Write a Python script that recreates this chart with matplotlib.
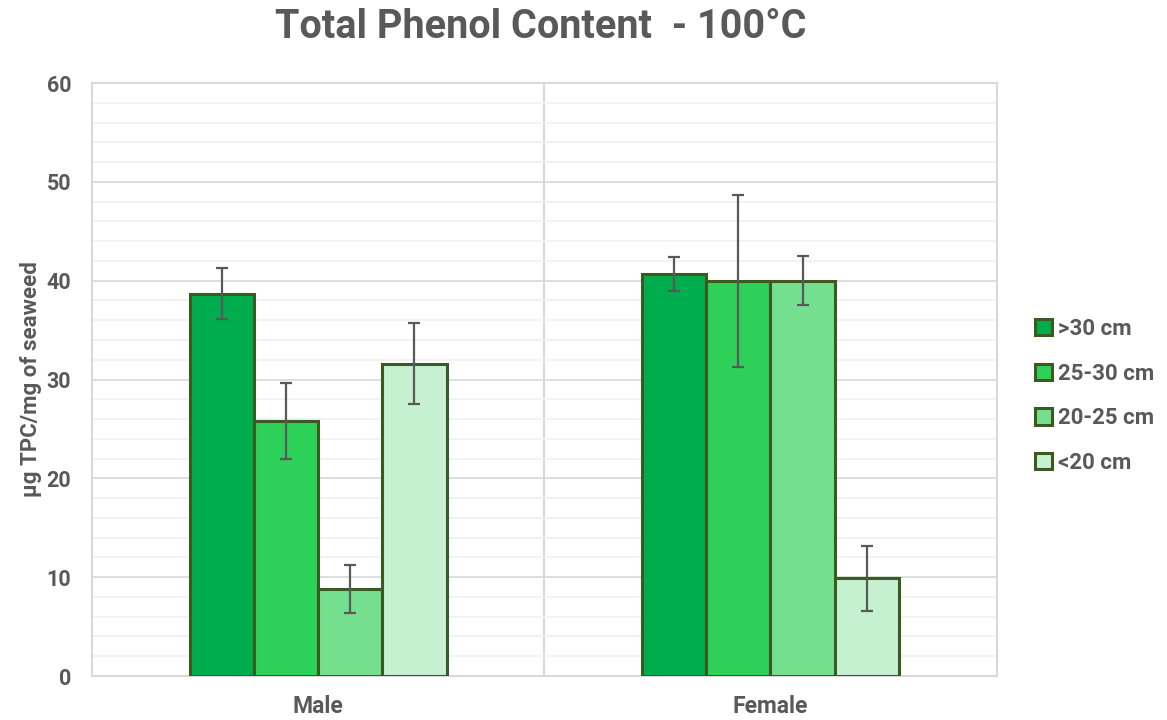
import numpy as np
import matplotlib.pyplot as plt

plt.rcParams['font.family'] = ['Roboto', 'DejaVu Sans']
plt.rcParams['font.weight'] = 'bold'

# data
groups = ['Male', 'Female']
sizes = ['>30 cm', '25-30 cm', '20-25 cm', '<20 cm']
gt30 = [38.7, 40.7]
s25_30 = [25.8, 40.0]
s20_25 = [8.8, 40.0]
lt20 = [31.6, 9.9]
err_gt30 = [2.6, 1.7]
err_25_30 = [3.8, 8.7]
err_20_25 = [2.4, 2.5]
err_lt20 = [4.1, 3.3]

values = [gt30, s25_30, s20_25, lt20]
errors = [err_gt30, err_25_30, err_20_25, err_lt20]
colors = ['#00AD4E', '#2ED158', '#74E08F', '#C6F1D0']
edge = '#3A5A22'
text_col = '#595959'

fig = plt.figure(figsize=(11.67, 7.2), dpi=100)
ax = fig.add_axes([0.0788, 0.0611, 0.7752, 0.8236])

x = np.arange(len(groups))
w = 0.142
for i, (vals, errs) in enumerate(zip(values, errors)):
    pos = x + (i - 1.5) * w
    ax.bar(pos, vals, width=w, color=colors[i], edgecolor=edge, linewidth=2.2,
           label=sizes[i], zorder=3)
    ax.errorbar(pos, vals, yerr=errs, fmt='none', ecolor=text_col, elinewidth=1.6,
                capsize=4.5, capthick=1.6, zorder=4)

ax.set_xlim(-0.5, 1.5)
ax.set_ylim(0, 60)
ax.set_yticks(np.arange(0, 61, 10))
ax.set_yticks(np.arange(0, 61, 2), minor=True)
ax.set_xticks(x)
ax.set_xticklabels(groups)
ax.grid(axis='y', which='minor', color='#F0F0F0', linewidth=1.2, zorder=0)
ax.grid(axis='y', which='major', color='#D9D9D9', linewidth=1.2, zorder=1)
ax.axvline(0.5, color='#D9D9D9', linewidth=1.5, zorder=1)
for s in ax.spines.values():
    s.set_color('#D9D9D9')
    s.set_linewidth(1.5)
ax.tick_params(axis='both', which='both', length=0, colors=text_col)
ax.tick_params(axis='y', labelsize=15.5, pad=15)
ax.tick_params(axis='x', labelsize=16.5, pad=14)
for lbl in ax.get_xticklabels() + ax.get_yticklabels():
    lbl.set_fontweight('bold')

ax.set_ylabel('µg TPC/mg of seaweed', fontsize=16, color=text_col, fontweight='bold', labelpad=3)
fig.text(0.4636, 0.9625, 'Total Phenol Content  - 100°C', fontsize=28.5, color=text_col,
         fontweight='bold', ha='center', va='center')

leg = ax.legend(loc='center left', bbox_to_anchor=(0.870, 0.45), bbox_transform=fig.transFigure,
                frameon=False, fontsize=16, handlelength=0.75, handleheight=0.75,
                handletextpad=0.25, labelspacing=1.02)
for t in leg.get_texts():
    t.set_color(text_col)
    t.set_fontweight('bold')

fig.savefig('out.png', dpi=100)
